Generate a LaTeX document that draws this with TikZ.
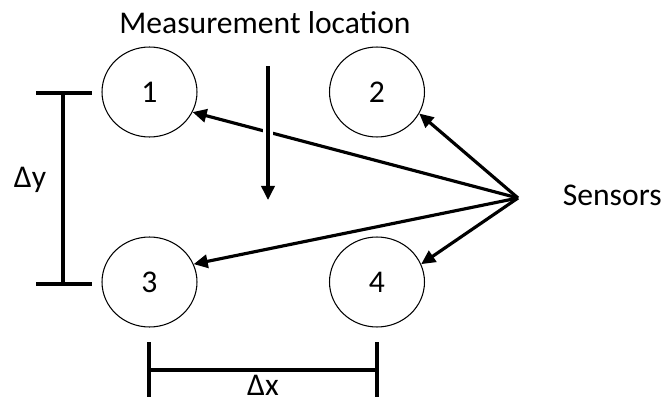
\documentclass[tikz,border=0pt]{standalone}
\usepackage{fontspec}
\setmainfont{Carlito}
\usetikzlibrary{arrows.meta,shapes.geometric}

\begin{document}
\begin{tikzpicture}[
    x=0.02cm,y=-0.02cm,
    sn/.style={ellipse,draw=black,line width=.6pt,minimum width=1.9cm,minimum height=1.8cm,inner sep=0pt,font=\fontsize{18}{21}\selectfont},
    ar/.style={-{Triangle[length=8pt,width=7.5pt]},line width=1.8pt},
    dim/.style={line width=1.9pt},
    lab/.style={inner sep=0pt,font=\fontsize{18}{21}\selectfont}
  ]
    \useasboundingbox (0,0) rectangle (667,399);
    \node[sn] (n1) at (149.5,92) {1}; \node[sn] (n2) at (377,92) {2};
    \node[sn] (n3) at (149.5,282) {3}; \node[sn] (n4) at (377,282) {4};
    \node[lab,anchor=base] (meas) at (265,33) {Measurement location};
    \node[lab,anchor=base east] (sens) at (662,205) {Sensors};
    \coordinate (hub) at (518,198);
    \foreach \t/\a in {n1/-25,n2/-27,n3/22,n4/22} {\draw[ar] (hub)--(\t.\a);}
    \coordinate (m0) at (268,66); \coordinate (m1) at (268,200);
    \draw[ar,preaction={draw,white,line width=5.5pt,-}] (m0)--(m1);
    % delta y
    \coordinate (y0) at (63,93); \coordinate (y1) at (63,284);
    \draw[dim] (y0)--(y1); \draw[dim] (36,93)--(92,93); \draw[dim] (36,284)--(92,284);
    \node[lab,anchor=base] (dy) at (30,187) {Δy};
    % delta x
    \coordinate (x0) at (149,370); \coordinate (x1) at (377,370);
    \draw[dim] (x0)--(x1); \draw[dim] (149,342)--(149,397); \draw[dim] (377,342)--(377,397);
    \node[lab,anchor=base] (dx) at (263,395) {Δx};
  \end{tikzpicture}
\end{document}
